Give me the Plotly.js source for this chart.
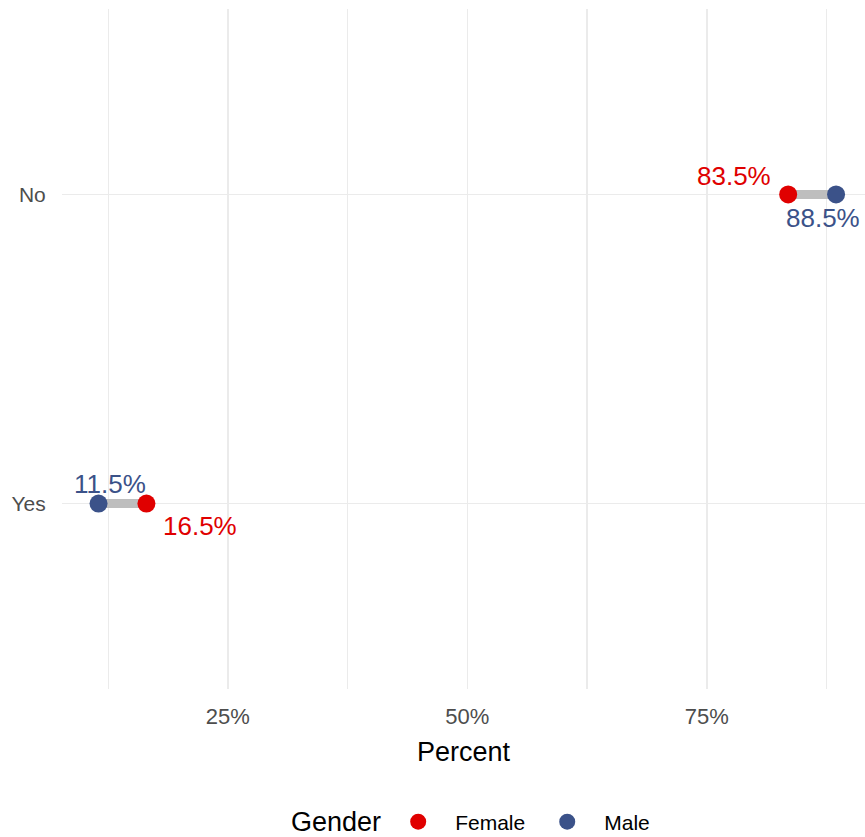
<!DOCTYPE html>
<html>
<head>
<meta charset="utf-8">
<script src="https://cdn.plot.ly/plotly-3.0.1.min.js"></script>
<style>html,body{margin:0;padding:0;background:#fff;}#chart{width:865px;height:837px;}</style>
</head>
<body>
<div id="chart"></div>
<script>
// Data
var categories = ["Yes", "No"];
var femaleValues = [16.5, 83.5];
var maleValues = [11.5, 88.5];
var tickValues = [25, 50, 75];
var tickLabels = ["25%", "50%", "75%"];
var legendTitle = "Gender";

var RED = "#E00000";
var BLUE = "#3B5289";
var FONT = "Liberation Sans, Arial, sans-serif";

// Segments between female & male for each category
var segX = [], segY = [];
categories.forEach(function (c, i) {
  segX.push(femaleValues[i], maleValues[i], null);
  segY.push(c, c, null);
});

var traces = [
  {x: segX, y: segY, mode: "lines", type: "scatter",
   line: {color: "#BEBEBE", width: 9}, showlegend: false, hoverinfo: "skip"},
  {x: femaleValues, y: categories, mode: "markers", type: "scatter", name: "Female",
   marker: {color: RED, size: 18}},
  {x: maleValues, y: categories, mode: "markers", type: "scatter", name: "Male",
   marker: {color: BLUE, size: 18}}
];

// Label annotations (placement styling depends on which end of the segment)
var annotations = [];
categories.forEach(function (c, i) {
  var f = femaleValues[i], m = maleValues[i];
  if (f > m) {
    annotations.push({x: f, y: c, text: f.toFixed(1) + "%", showarrow: false,
      xanchor: "left", yanchor: "middle", xshift: 15, yshift: -22,
      font: {family: FONT, size: 26, color: RED}});
    annotations.push({x: m, y: c, text: m.toFixed(1) + "%", showarrow: false,
      xanchor: "center", yanchor: "middle", xshift: 11.5, yshift: 20,
      font: {family: FONT, size: 26, color: BLUE}});
  } else {
    annotations.push({x: f, y: c, text: f.toFixed(1) + "%", showarrow: false,
      xanchor: "right", yanchor: "middle", xshift: -15, yshift: 18,
      font: {family: FONT, size: 26, color: RED}});
    annotations.push({x: m, y: c, text: m.toFixed(1) + "%", showarrow: false,
      xanchor: "center", yanchor: "middle", xshift: -13, yshift: -24,
      font: {family: FONT, size: 26, color: BLUE}});
  }
});

// Legend title drawn as text beside the legend
annotations.push({xref: "paper", yref: "paper", x: 0.2827, y: -0.1956,
  xanchor: "left", yanchor: "middle", text: legendTitle, showarrow: false,
  font: {family: FONT, size: 27, color: "#000"}});

var layout = {
  width: 865, height: 837,
  margin: {l: 62, r: 0, t: 9, b: 148, autoexpand: false},
  paper_bgcolor: "#fff", plot_bgcolor: "#fff",
  font: {family: FONT},
  showlegend: true,
  xaxis: {
    range: [7.685, 91.52],
    tickmode: "array", tickvals: tickValues, ticktext: tickLabels,
    tickfont: {family: FONT, size: 22, color: "#4D4D4D"},
    ticks: "outside", ticklen: 8, tickcolor: "rgba(0,0,0,0)",
    showgrid: true, gridcolor: "#EBEBEB", gridwidth: 1.5,
    minor: {tickmode: "array", tickvals: [12.5, 37.5, 62.5, 87.5], showgrid: true, gridcolor: "#EBEBEB", gridwidth: 1.2},
    zeroline: false, showline: false, automargin: false,
    title: {text: "Percent", font: {family: FONT, size: 27, color: "#000"}, standoff: 13}
  },
  yaxis: {
    type: "category", categoryorder: "array", categoryarray: categories,
    range: [-0.6, 1.6],
    tickfont: {family: FONT, size: 21, color: "#4D4D4D"},
    ticks: "outside", ticklen: 11, tickcolor: "rgba(0,0,0,0)",
    showgrid: true, gridcolor: "#EBEBEB", gridwidth: 1.5,
    zeroline: false, showline: false, automargin: false
  },
  legend: {
    orientation: "h", x: 0.3975, xanchor: "left", y: -0.1956, yanchor: "middle",
    font: {family: FONT, size: 21, color: "#000"},
    itemwidth: 64
  },
  annotations: annotations
};

Plotly.newPlot("chart", traces, layout, {displayModeBar: false, staticPlot: true});
</script>
</body>
</html>
